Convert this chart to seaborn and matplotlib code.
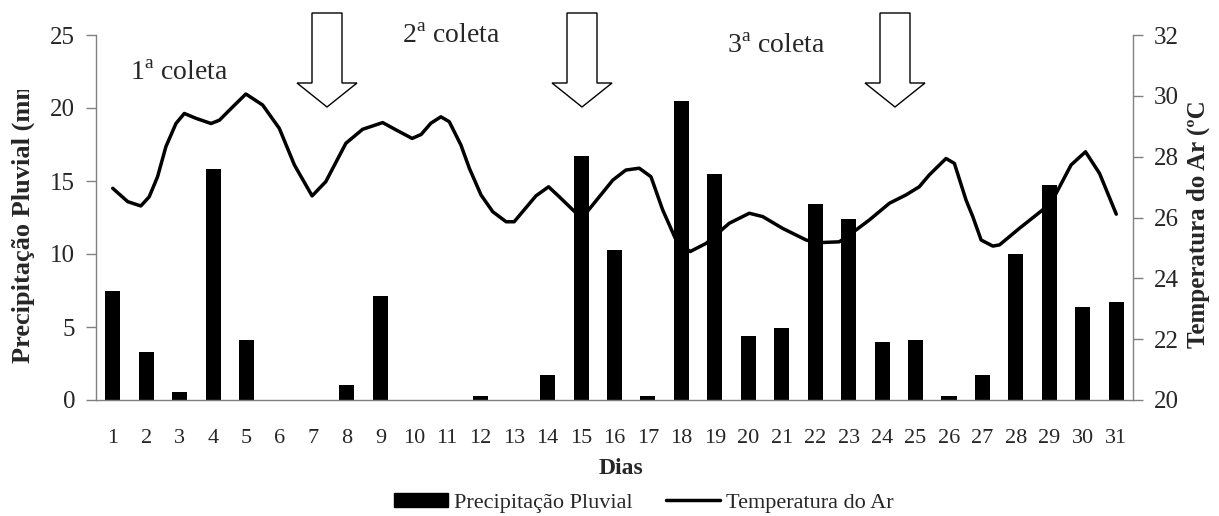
import numpy as np
import seaborn as sns
import matplotlib.pyplot as plt
from matplotlib.patches import Polygon, Patch
from matplotlib.lines import Line2D
from matplotlib.transforms import Bbox, TransformedBbox

# dados
dias = list(range(1, 32))
precipitacao = [7.5, 3.3, 0.55, 15.8, 4.1, 0, 0, 1.0, 7.1, 0, 0, 0.3, 0, 1.7, 16.7,
                10.3, 0.3, 20.5, 15.5, 4.4, 4.9, 13.4, 12.4, 4.0, 4.1, 0.3, 1.7,
                10.0, 14.7, 6.4, 6.7]

# temperatura do ar (curva suavizada, lida em posicoes fracionarias do dia)
temp_dias = [1.0, 1.45, 1.84, 2.09, 2.34, 2.59, 2.89, 3.14, 3.49, 3.94, 4.19, 4.59,
             4.98, 5.48, 5.98, 6.43, 6.96, 7.37, 7.97, 8.47, 9.07, 9.47, 9.95, 10.22,
             10.51, 10.81, 11.06, 11.41, 11.66, 12.01, 12.36, 12.76, 13.0, 13.65,
             14.03, 14.35, 15.02, 15.95, 16.34, 16.74, 17.09, 17.44, 17.84, 18.26,
             18.74, 19.43, 20.03, 20.43, 21.03, 21.73, 22.02, 22.72, 23.22, 23.62,
             24.22, 24.71, 25.11, 25.41, 25.91, 26.16, 26.51, 26.71, 26.96, 27.31,
             27.51, 28.1, 28.8, 29.2, 29.65, 30.08, 30.5, 31.0]
temp_valores = [26.96, 26.52, 26.38, 26.68, 27.34, 28.33, 29.09, 29.42, 29.26, 29.09,
                29.2, 29.64, 30.06, 29.7, 28.93, 27.73, 26.71, 27.18, 28.44, 28.9,
                29.12, 28.88, 28.6, 28.73, 29.1, 29.31, 29.15, 28.38, 27.62, 26.74,
                26.19, 25.86, 25.86, 26.71, 27.01, 26.68, 25.97, 27.23, 27.56, 27.62,
                27.34, 26.25, 25.26, 24.88, 25.15, 25.81, 26.14, 26.03, 25.64, 25.26,
                25.17, 25.2, 25.59, 25.92, 26.47, 26.74, 27.01, 27.4, 27.94, 27.78,
                26.57, 26.03, 25.26, 25.06, 25.1, 25.64, 26.25, 26.79, 27.73, 28.16,
                27.45, 26.11]

coletas = ['1$^{\\mathrm{a}}$ coleta', '2$^{\\mathrm{a}}$ coleta', '3$^{\\mathrm{a}}$ coleta']

sns.set_style('white')
plt.rcParams['font.family'] = ['Liberation Serif', 'DejaVu Serif']
plt.rcParams['mathtext.fontset'] = 'custom'
plt.rcParams['mathtext.rm'] = 'Liberation Serif'

W, H = 1219, 516
fig = plt.figure(figsize=(W / 100, H / 100), dpi=100)
ax = fig.add_axes([96 / W, 1 - 400 / H, (1133 - 96) / W, 365 / H])
ax2 = ax.twinx()

gray = '#808080'

sns.barplot(x=dias, y=precipitacao, native_scale=True, width=0.45, color='black',
            saturation=1, linewidth=0, errorbar=None, ax=ax)
sns.lineplot(x=temp_dias, y=temp_valores, color='black', linewidth=2.5, ax=ax2)

# barras por cima da linha
ax.set_zorder(ax2.get_zorder() + 1)
ax.patch.set_visible(False)

ax.set_xlim(0.5, 31.5)
ax.set_ylim(0, 25)
ax.set_yticks(range(0, 26, 5))
ax2.set_ylim(20, 32)
ax2.set_yticks(range(20, 33, 2))

ax.set_xticks(dias)
ax.set_xticklabels([str(d) for d in dias])
ax.set_xticks(np.arange(0.5, 32, 1), minor=True)
ax.tick_params(axis='x', which='major', length=0, pad=21, labelsize=16)
ax.tick_params(axis='x', which='minor', length=7, width=1, color=gray, direction='out')
ax.tick_params(axis='y', length=7, width=1, color=gray, direction='out', pad=8, labelsize=18, left=True)
ax2.tick_params(axis='y', length=7, width=1, color=gray, direction='out', pad=8, labelsize=18, right=True)
ax.set_xlabel('')
ax.set_ylabel('')
ax2.set_ylabel('')

for a in (ax, ax2):
    for side in a.spines:
        a.spines[side].set_color(gray)
        a.spines[side].set_linewidth(1)
    a.spines['top'].set_visible(False)
ax.spines['right'].set_visible(False)
ax2.spines['left'].set_visible(False)
ax2.spines['bottom'].set_visible(False)


def fx(x):
    return x / W


def fy(y):
    return 1 - y / H


fig.text(fx(621), fy(458), 'Dias', ha='center', va='top', fontsize=17, fontweight='bold')

# rotulos dos eixos, cortados no topo como no original
lab_esq = fig.text(fx(23), fy(363), 'Precipitação Pluvial (mm)', rotation=90,
                   rotation_mode='anchor', ha='left', va='center', fontsize=19, fontweight='bold')
lab_esq.set_clip_box(TransformedBbox(Bbox([[0, 0], [1, fy(90)]]), fig.transFigure))
lab_dir = fig.text(fx(1198), fy(348), 'Temperatura do Ar (ºC)', rotation=90,
                   rotation_mode='anchor', ha='left', va='center', fontsize=18, fontweight='bold')
lab_dir.set_clip_box(TransformedBbox(Bbox([[0, 0], [1, fy(101)]]), fig.transFigure))

# textos das coletas
for txt, (x, y) in zip(coletas, [(130, 80), (402, 43), (727, 53)]):
    fig.text(fx(x), fy(y), txt, ha='left', va='baseline', fontsize=20)

# setas das coletas
for cx in [327, 582, 895]:
    pts = [(cx - 15, 13), (cx + 15, 13), (cx + 15, 83), (cx + 30, 83), (cx, 107),
           (cx - 30, 83), (cx - 15, 83)]
    seta = Polygon([(fx(x), fy(y)) for x, y in pts], closed=True, facecolor='white',
                   edgecolor='black', linewidth=1, transform=fig.transFigure)
    fig.add_artist(seta)

handles = [Patch(facecolor='black', edgecolor='black'),
           Line2D([0], [0], color='black', linewidth=2.5)]
fig.legend(handles, ['Precipitação Pluvial', 'Temperatura do Ar'], loc='center',
           bbox_to_anchor=(fx(644), fy(503)), ncol=2, frameon=False, fontsize=16,
           handlelength=2.4, handleheight=0.6, handletextpad=0.3, columnspacing=1.5)

fig.savefig('out.png', dpi=100)
